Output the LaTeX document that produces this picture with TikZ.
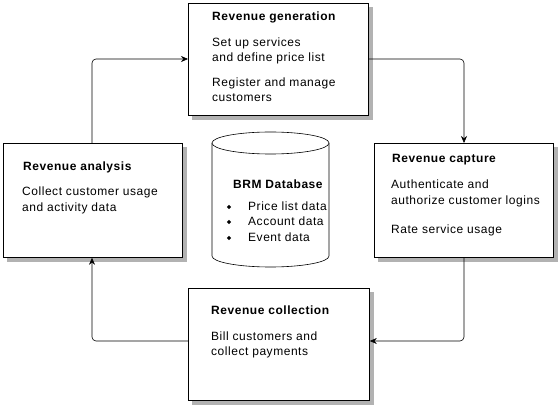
\documentclass[tikz,border=0pt]{standalone}
\usepackage{fontspec}
\setmainfont{Liberation Sans}[LetterSpace=4.5]
\usetikzlibrary{calc,arrows.meta,shapes.geometric}
\begin{document}
\begin{tikzpicture}[x=1pt,y=-1pt,
  stagebox/.style={draw,thick,fill=white,rectangle,inner sep=0pt,anchor=north west},
  shadowfill/.style={fill=black!30},
  txt/.style={anchor=base west,inner sep=0pt,font=\fontsize{12}{15}\selectfont},
  ttl/.style={txt,font=\fontsize{12}{15}\selectfont\bfseries},
  link/.style={draw,semithick,rounded corners=4pt,-{Stealth[length=7pt,width=6pt]}},
  bullet/.style={diamond,fill,inner sep=0pt,minimum size=4.5pt}]
\useasboundingbox (0,0) rectangle (558,406);
% boxes
\node[stagebox,minimum width=180pt,minimum height=112pt] (gen) at (188,3) {};
\node[stagebox,minimum width=179pt,minimum height=114pt] (cap) at (374,143) {};
\node[stagebox,minimum width=179pt,minimum height=114pt] (ana) at (3,143) {};
\node[stagebox,minimum width=181pt,minimum height=112pt] (col) at (188,288) {};
% shadows
\begin{scope}[on background layer/.try]
\foreach \b in {gen,cap,ana,col}{
  \fill[shadowfill] ($(\b.north west)+(4,4)$) rectangle ($(\b.south east)+(4,4)$);
}
\end{scope}
% redraw boxes over shadows
\foreach \b in {gen,cap,ana,col}{
  \draw[thick,fill=white] (\b.north west) rectangle (\b.south east);
}
% texts
\node[ttl] (gent) at (212,21) {Revenue generation};
\node[txt] (gen1) at (212,47) {Set up services};
\node[txt] (gen2) at (212,62) {and define price list};
\node[txt] (gen3) at (212,87) {Register and manage};
\node[txt] (gen4) at (212,102) {customers};
\node[ttl] (capt) at (392,163) {Revenue capture};
\node[txt] (cap1) at (391,189) {Authenticate and};
\node[txt] (cap2) at (391,205) {authorize customer logins};
\node[txt] (cap3) at (391,234) {Rate service usage};
\node[ttl] (anat) at (23,171) {Revenue analysis};
\node[txt] (ana1) at (22,196) {Collect customer usage};
\node[txt] (ana2) at (22,212) {and activity data};
\node[ttl] (colt) at (211,315) {Revenue collection};
\node[txt] (col1) at (211,341) {Bill customers and};
\node[txt] (col2) at (211,356) {collect payments};
% database cylinder
\draw[semithick,fill=white] (212,143) -- (212,256) arc[start angle=180,end angle=0,x radius=58.5,y radius=11] -- (329,143);
\draw[semithick,fill=white] (270.5,143) ellipse[x radius=58.5,y radius=11];
\node[ttl] (dbt) at (233,189) {BRM Database};
\node[bullet] (b1) at (229,207) {};
\node[bullet] (b2) at (229,222) {};
\node[bullet] (b3) at (229,238) {};
\node[txt] (db1) at (248,211) {Price list data};
\node[txt] (db2) at (248,226) {Account data};
\node[txt] (db3) at (248,242) {Event data};
% connectors
\draw[link] (gen.east |- 0,59) -| (cap.north -| 464,0);
\draw[link] (cap.south -| 464,0) |- (col.east |- 0,341);
\draw[link] (col.west |- 0,341) -| (ana.south -| 92,0);
\draw[link] (ana.north -| 92,0) |- (gen.west |- 0,59);
\end{tikzpicture}
\end{document}
